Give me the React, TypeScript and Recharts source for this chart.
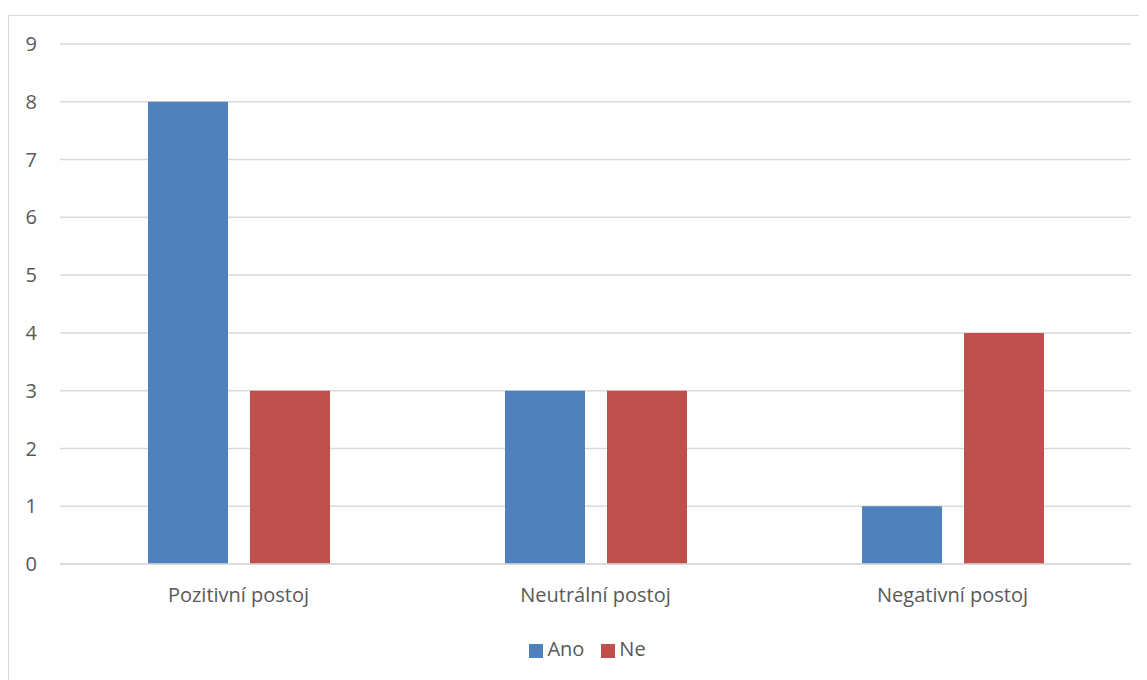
import { BarChart, Bar, XAxis, YAxis, CartesianGrid, Legend } from 'recharts';

const categories = ['Pozitivní postoj', 'Neutrální postoj', 'Negativní postoj'];
const anoValues = [8, 3, 1];
const neValues = [3, 3, 4];
const yTicks = [0, 1, 2, 3, 4, 5, 6, 7, 8, 9];

const data = categories.map((name, i) => ({ name, Ano: anoValues[i], Ne: neValues[i] }));

const textColor = '#595959';
const gridColor = '#d9d9d9';
const font = '"Open Sans", sans-serif';

export default function App() {
  return (
    <div
      style={{
        marginTop: 7,
        width: 1138,
        height: 664,
        borderLeft: `1px solid ${gridColor}`,
        borderTop: `1px solid ${gridColor}`,
        fontFamily: font,
        background: '#fff',
      }}
    >
      <BarChart
        width={1138}
        height={664}
        data={data}
        margin={{ top: 28, right: 16, left: 0, bottom: 21 }}
        barSize={80}
        barGap={22}
      >
        <CartesianGrid vertical={false} stroke={gridColor} strokeWidth={1.5} />
        <XAxis
          dataKey="name"
          height={71}
          axisLine={{ stroke: gridColor, strokeWidth: 1.5 }}
          tickLine={false}
          tickMargin={18}
          tick={{ fill: textColor, fontSize: 20, fontFamily: font }}
        />
        <YAxis
          width={51}
          domain={[0, 9]}
          ticks={yTicks}
          axisLine={false}
          tickLine={false}
          tickMargin={17}
          tick={{ fill: textColor, fontSize: 20, fontFamily: font }}
        />
        <Legend
          verticalAlign="bottom"
          iconType="square"
          iconSize={14}
          wrapperStyle={{ height: 24, fontSize: 20, fontFamily: font, paddingLeft: 52, boxSizing: 'border-box' }}
          formatter={(value: string) => (
            <span style={{ color: textColor, marginRight: 7 }}>{value}</span>
          )}
        />
        <Bar dataKey="Ano" fill="#4f81bd" isAnimationActive={false} />
        <Bar dataKey="Ne" fill="#c0504d" isAnimationActive={false} />
      </BarChart>
    </div>
  );
}
